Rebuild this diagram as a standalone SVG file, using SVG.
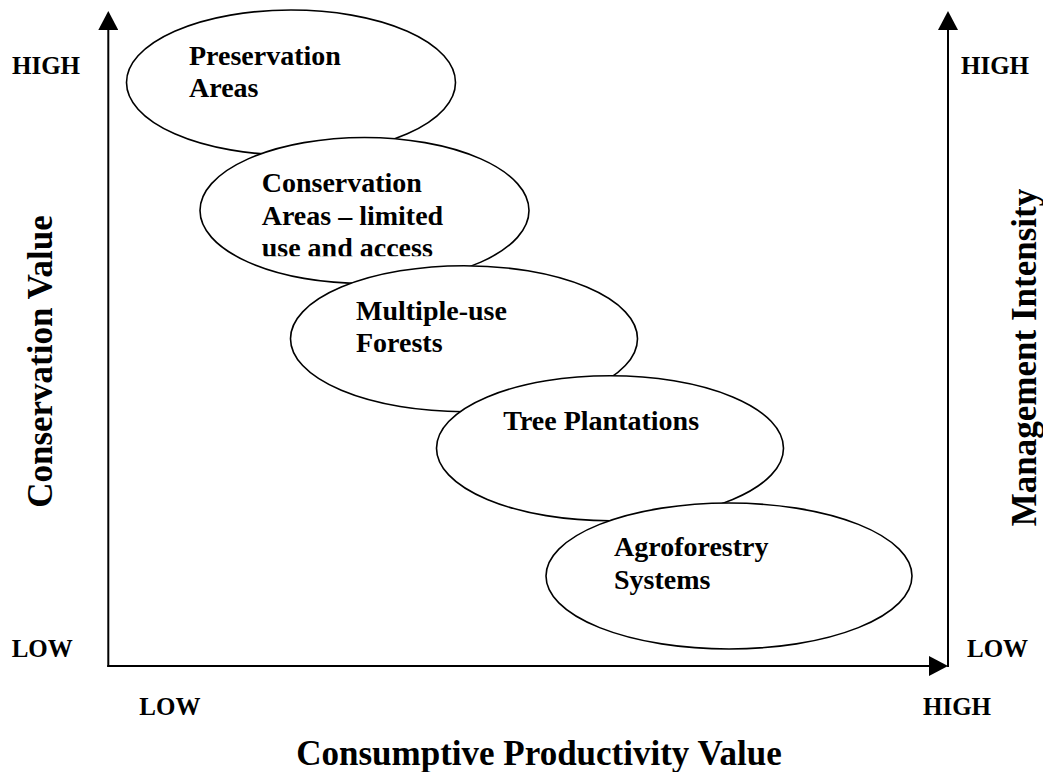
<svg xmlns="http://www.w3.org/2000/svg" width="1043" height="772" viewBox="0 0 1043 772">
<style>
text{font-family:"Liberation Serif","Times New Roman",serif;font-weight:bold;fill:#000}
.lbl{font-size:28px}
.tick{font-size:25px}
.title{font-size:35px}
.ell{fill:#fff;stroke:#000;stroke-width:1.6}
.axis{fill:none;stroke:#000;stroke-width:2}
</style>
<defs>
<marker id="arr" viewBox="0 0 19 20" refX="0" refY="10" markerWidth="19" markerHeight="20" markerUnits="userSpaceOnUse" orient="auto">
<path d="M0,0 L19,10 L0,20 Z" fill="#000"/>
</marker>
<clipPath id="clipC"><rect x="200" y="130" width="330" height="126.3"/></clipPath>
</defs>
<rect width="1043" height="772" fill="#fff"/>
<g id="connectors">
<path class="axis" d="M108.3,667 V30" marker-end="url(#arr)"/>
<path class="axis" d="M107.3,666 H929" marker-end="url(#arr)"/>
<path class="axis" d="M948,667 V30" marker-end="url(#arr)"/>
</g>
<g id="preservation">
<ellipse class="ell" cx="291" cy="82.5" rx="164.5" ry="72.5"/>
<text class="lbl" x="189" y="65">Preservation</text>
<text class="lbl" x="189" y="97">Areas</text>
</g>
<g id="conservation">
<ellipse class="ell" cx="364.5" cy="210.5" rx="164.5" ry="73"/>
<g clip-path="url(#clipC)">
<text class="lbl" x="261.7" y="191.7">Conservation</text>
<text class="lbl" x="261.7" y="225">Areas – limited</text>
<text class="lbl" x="261.7" y="257">use and access</text>
</g>
</g>
<g id="multiple-use">
<ellipse class="ell" cx="464" cy="338.7" rx="173.5" ry="73"/>
<text class="lbl" x="356" y="320">Multiple-use</text>
<text class="lbl" x="356" y="351.7">Forests</text>
</g>
<g id="tree-plantations">
<ellipse class="ell" cx="610" cy="448.2" rx="173.5" ry="72.5"/>
<text class="lbl" x="503.3" y="430">Tree Plantations</text>
</g>
<g id="agroforestry">
<ellipse class="ell" cx="729" cy="576" rx="183" ry="73"/>
<text class="lbl" x="614" y="556">Agroforestry</text>
<text class="lbl" x="614" y="589.3">Systems</text>
</g>
<g id="axis-labels">
<text class="tick" x="12" y="74">HIGH</text>
<text class="tick" x="11.7" y="656.7">LOW</text>
<text class="tick" x="961" y="74">HIGH</text>
<text class="tick" x="967" y="656.7">LOW</text>
<text class="tick" x="139.3" y="715">LOW</text>
<text class="tick" x="923" y="715">HIGH</text>
<text class="title" transform="translate(52,361.5) rotate(-90)" text-anchor="middle">Conservation Value</text>
<text class="title" transform="translate(1036,357.5) rotate(-90)" text-anchor="middle">Management Intensity</text>
<text class="title" x="539" y="765" text-anchor="middle">Consumptive Productivity Value</text>
</g>
</svg>
